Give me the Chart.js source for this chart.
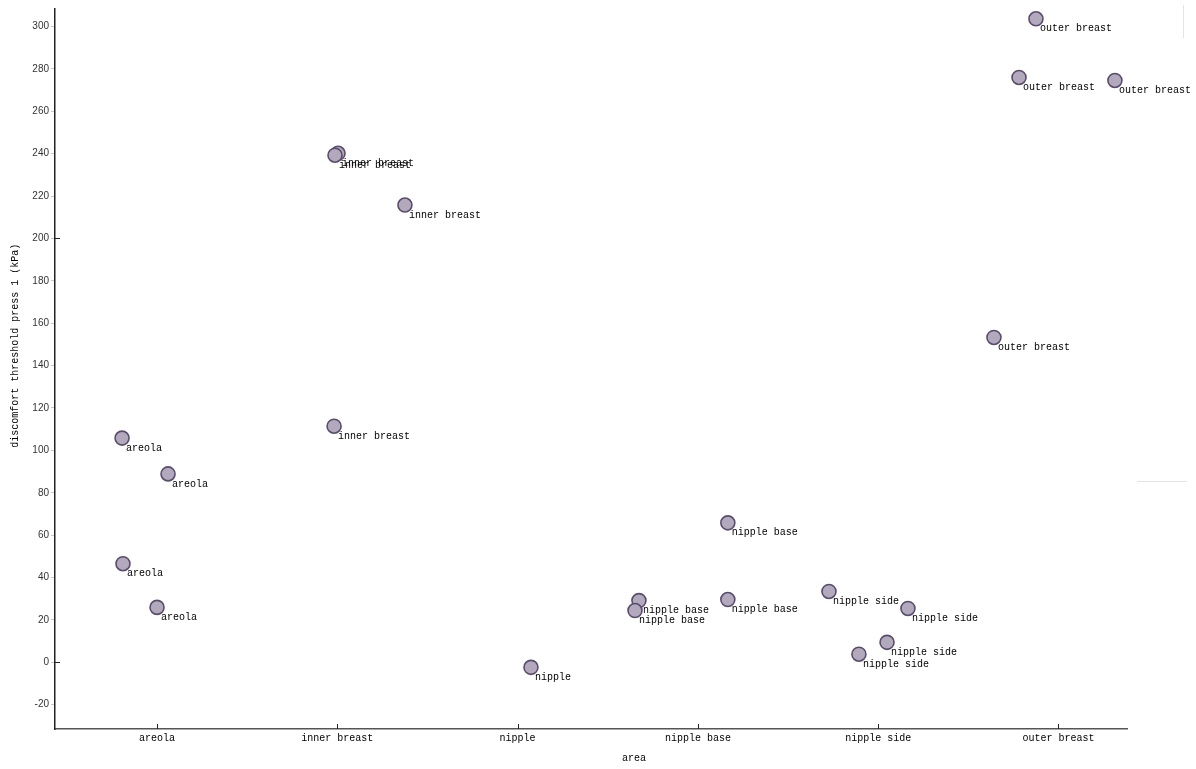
<!DOCTYPE html>
<html>
<head>
<meta charset="utf-8">
<script src="https://cdn.jsdelivr.net/npm/chart.js@4.4.1/dist/chart.umd.min.js"></script>
<style>
html,body{margin:0;padding:0;background:#fff;}
#wrap{width:1196px;height:769px;position:relative;}
</style>
</head>
<body>
<div id="wrap"><canvas id="c" width="1196" height="769"></canvas></div>
<script>
// Categories (x axis)
const categories = ["areola","inner breast","nipple","nipple base","nipple side","outer breast"];
// Jittered x positions (category index + jitter)
const jitterX = [-0.194, 0.061, -0.189, 0.0,
                 1.004, 0.987, 1.375, 0.982,
                 2.074,
                 2.673, 2.651, 3.166, 3.166,
                 3.727, 4.165, 4.049, 3.893,
                 4.875, 4.781, 5.313, 4.642];
// discomfort threshold press 1 (kPa)
const pressValues = [105.8, 88.9, 46.5, 25.9,
                     240.2, 239.3, 215.8, 111.4,
                     -2.4,
                     29.1, 24.4, 65.8, 29.6,
                     33.4, 25.4, 9.4, 3.8,
                     303.7, 276.0, 274.6, 153.3];
// point label (area of each observation)
const pointAreas = ["areola","areola","areola","areola",
                    "inner breast","inner breast","inner breast","inner breast",
                    "nipple",
                    "nipple base","nipple base","nipple base","nipple base",
                    "nipple side","nipple side","nipple side","nipple side",
                    "outer breast","outer breast","outer breast","outer breast"];
// y tick labels
const yTicks = [-20,0,20,40,60,80,100,120,140,160,180,200,220,240,260,280,300];
const xTitle = "area";
const yTitle = "discomfort threshold press 1 (kPa)";

const points = jitterX.map((x,i)=>({x:x, y:pressValues[i]}));

const monoFont = "'Liberation Mono', 'DejaVu Sans Mono', monospace";
const sansFont = "'Liberation Sans', Arial, sans-serif";

const labelPlugin = {
  id:'pointLabels',
  afterDatasetsDraw(chart){
    const ctx = chart.ctx;
    const meta = chart.getDatasetMeta(0);
    ctx.save();
    ctx.font = "10px " + monoFont;
    ctx.fillStyle = "#000";
    ctx.textAlign = "left";
    ctx.textBaseline = "middle";
    meta.data.forEach((el,i)=>{
      ctx.fillText(pointAreas[i], el.x + 4, el.y + 10);
    });
    ctx.restore();
  }
};

const axisTicksPlugin = {
  id:'inwardTicks',
  afterDraw(chart){
    const ctx = chart.ctx;
    const xs = chart.scales.x;
    const ys = chart.scales.y;
    const a = chart.chartArea;
    ctx.save();
    ctx.strokeStyle = "#222";
    ctx.lineWidth = 1;
    xs.ticks.forEach(t=>{
      const px = Math.round(xs.getPixelForValue(t.value)) + 0.5;
      ctx.beginPath(); ctx.moveTo(px, a.bottom); ctx.lineTo(px, a.bottom - 5); ctx.stroke();
    });
    [0,200].forEach(v=>{
      const py = Math.round(ys.getPixelForValue(v)) + 0.5;
      ctx.beginPath(); ctx.moveTo(a.left, py); ctx.lineTo(a.left + 5, py); ctx.stroke();
    });
    // axis titles
    ctx.font = "10px " + monoFont;
    ctx.fillStyle = "#000";
    ctx.textAlign = "center";
    ctx.textBaseline = "middle";
    ctx.fillText(xTitle, a.left + (a.right - a.left) * 0.54, a.bottom + 29);
    ctx.save();
    ctx.translate(15, a.top + (a.bottom - a.top) * 0.468);
    ctx.rotate(-Math.PI/2);
    ctx.fillText(yTitle, 0, 0);
    ctx.restore();
    // faint remnants at right edge
    ctx.strokeStyle = "#e4e4e4";
    ctx.beginPath(); ctx.moveTo(1183.5, 5); ctx.lineTo(1183.5, 38); ctx.stroke();
    ctx.beginPath(); ctx.moveTo(1137, 481.5); ctx.lineTo(1187, 481.5); ctx.stroke();
    ctx.restore();
  }
};

new Chart(document.getElementById('c'), {
  type:'scatter',
  data:{datasets:[{
    data: points,
    backgroundColor:'#b2a9bd',
    borderColor:'#5b4c6d',
    borderWidth:1.6,
    pointRadius:7,
    pointHoverRadius:7
  }]},
  options:{
    responsive:false,
    animation:false,
    events:[],
    layout:{padding:{top:6,right:69,left:0,bottom:0}},
    plugins:{legend:{display:false},tooltip:{enabled:false}},
    scales:{
      x:{
        type:'linear',
        min:-0.566, max:5.38,
        afterBuildTicks(scale){ scale.ticks = categories.map((c,i)=>({value:i})); },
        afterFit(scale){ scale.height = 40; },
        grid:{display:true, drawOnChartArea:false, drawTicks:false, color:'#666'},
        border:{display:true, color:'#555', width:1.5},
        ticks:{
          autoSkip:false, maxRotation:0, padding:3,
          font:{family:monoFont, size:10}, color:'#000',
          callback:(v)=>categories[v]
        },
        title:{display:false}
      },
      y:{
        min:-31.5, max:308.5,
        afterBuildTicks(scale){ scale.ticks = yTicks.map(v=>({value:v})); },
        afterFit(scale){ scale.width = 55; },
        grid:{display:true, drawOnChartArea:false, drawTicks:true, tickLength:4, color:'#c8c8c8'},
        border:{display:true, color:'#222', width:1.5},
        ticks:{autoSkip:false, padding:2, font:{family:sansFont, size:10}, color:'#333', callback:(v)=>String(v)},
        title:{display:false}
      }
    }
  },
  plugins:[labelPlugin, axisTicksPlugin]
});
</script>
</body>
</html>
